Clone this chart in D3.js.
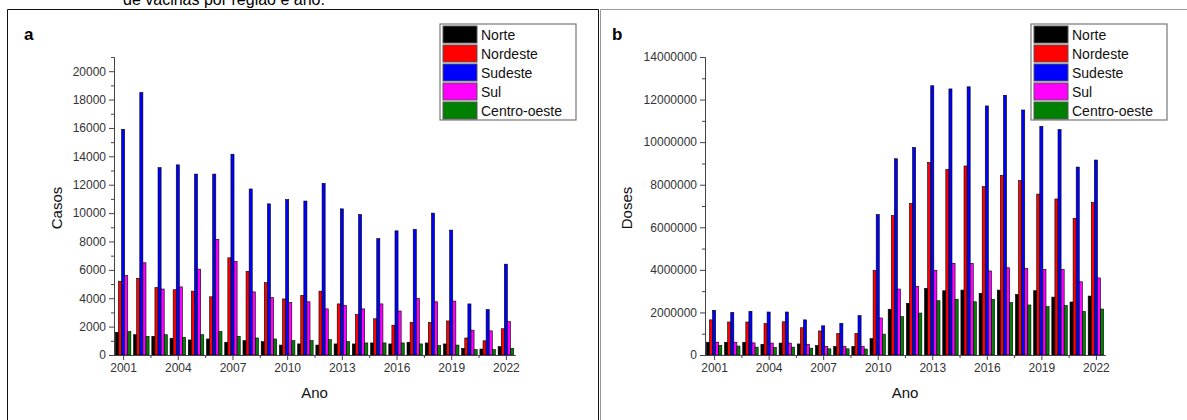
<!DOCTYPE html>
<html>
<head>
<meta charset="utf-8">
<script src="https://cdn.jsdelivr.net/npm/d3@7"></script>
<style>
  body { margin: 0; background: #fff; }
  svg { display: block; font-family: Arial, "Liberation Sans", sans-serif; }
  .axis path, .axis line { stroke: #444; }
  .axis text { fill: #333; font-size: 12px; font-family: Arial, "Liberation Sans", sans-serif; }
</style>
</head>
<body>
<div id="chart"></div>
<script>
const years = d3.range(2001, 2023);
const regions = ["Norte", "Nordeste", "Sudeste", "Sul", "Centro-oeste"];
const colors = ["#000000", "#ff0000", "#0000ff", "#ff00ff", "#008000"];
const xTicks = [2001, 2004, 2007, 2010, 2013, 2016, 2019, 2022];

// panel a: casos
const casosNorte   = [1600, 1430, 1320, 1180, 1060, 1130, 900, 1010, 940, 700, 780, 700, 780, 780, 850, 780, 900, 850, 780, 470, 420, 590];
const casosNordeste= [5200, 5400, 4750, 4600, 4500, 4100, 6850, 5900, 5100, 3950, 4200, 4500, 3600, 2850, 2550, 2100, 2300, 2300, 2400, 1200, 1000, 1850];
const casosSudeste = [15900, 18500, 13200, 13400, 12750, 12750, 14150, 11700, 10650, 10950, 10850, 12100, 10300, 9900, 8200, 8750, 8850, 10000, 8800, 3600, 3200, 6400];
const casosSul     = [5600, 6500, 4650, 4800, 6050, 8150, 6600, 4450, 4050, 3700, 3750, 3250, 3500, 3250, 3600, 3100, 4000, 3750, 3800, 1750, 1700, 2350];
const casosCentro  = [1650, 1320, 1430, 1250, 1430, 1650, 1320, 1200, 1130, 1010, 1010, 1080, 940, 850, 850, 850, 780, 660, 700, 380, 380, 470];

// panel b: doses
const dosesNorte   = [600000, 600000, 600000, 500000, 560000, 520000, 450000, 400000, 400000, 770000, 2150000, 2430000, 3130000, 3020000, 3050000, 2900000, 3050000, 2850000, 3020000, 2720000, 2490000, 2770000];
const dosesNordeste= [1650000, 1550000, 1550000, 1480000, 1560000, 1280000, 1130000, 1010000, 1010000, 3970000, 6550000, 7120000, 9050000, 8720000, 8880000, 7910000, 8440000, 8190000, 7560000, 7330000, 6420000, 7170000];
const dosesSudeste = [2100000, 2000000, 2050000, 2020000, 2020000, 1650000, 1370000, 1490000, 1850000, 6600000, 9220000, 9750000, 12650000, 12500000, 12600000, 11700000, 12200000, 11510000, 10740000, 10590000, 8830000, 9160000];
const dosesSul     = [600000, 600000, 570000, 560000, 560000, 500000, 400000, 400000, 400000, 1740000, 3100000, 3220000, 3980000, 4310000, 4310000, 3950000, 4100000, 4070000, 4020000, 4020000, 3440000, 3620000];
const dosesCentro  = [450000, 420000, 370000, 360000, 370000, 320000, 290000, 290000, 280000, 980000, 1800000, 1970000, 2550000, 2620000, 2500000, 2620000, 2460000, 2350000, 2270000, 2320000, 2040000, 2160000];

const W = 1187, H = 420;
const svg = d3.select("#chart").append("svg")
  .attr("width", W).attr("height", H);

// cut-off caption and panel frames
svg.append("text")
  .attr("x", 123).attr("y", 5)
  .attr("font-size", 16).attr("fill", "#000")
  .text("de vacinas por região e ano.");
svg.append("path")
  .attr("d", `M7.5 ${H} V9.5 H598.5 V${H}`)
  .attr("fill", "none").attr("stroke", "#111");
svg.append("path")
  .attr("d", `M600.5 ${H} V9.5 H${W}`)
  .attr("fill", "none").attr("stroke", "#999");

const panels = [
  {letter: "a", lx: 24, left: 114, right: 515, yMax: 21000, major: 2000, ylabel: "Casos", ylx: 57,
   legendX: 440, series: [casosNorte, casosNordeste, casosSudeste, casosSul, casosCentro]},
  {letter: "b", lx: 612, left: 705, right: 1105, yMax: 14000000, major: 2000000, ylabel: "Doses", ylx: 627,
   legendX: 1031, series: [dosesNorte, dosesNordeste, dosesSudeste, dosesSul, dosesCentro]}
];

const dim = {top: 57, bottom: 355};

panels.forEach(drawPanel);

function drawPanel(p) {
  const g = svg.append("g");
  const x = d3.scaleLinear([2000.5, 2022.5], [p.left, p.right]);
  const y = d3.scaleLinear([0, p.yMax], [dim.bottom, dim.top]);
  const step = x(2002) - x(2001);
  const sub = d3.scaleBand(d3.range(regions.length), [-step * 0.425, step * 0.425]);

  const rows = [];
  p.series.forEach((vals, s) => vals.forEach((v, i) => rows.push({s, year: years[i], v})));

  g.append("g").selectAll("rect").data(rows).join("rect")
    .attr("x", d => x(d.year) + sub(d.s))
    .attr("y", d => y(d.v))
    .attr("width", sub.bandwidth())
    .attr("height", d => y(0) - y(d.v))
    .attr("fill", d => colors[d.s])
    .attr("stroke", "#000")
    .attr("stroke-width", 0.6);

  // y axis, major + minor
  const majors = d3.range(0, p.yMax + 1, p.major).filter(v => v <= p.yMax && (p.yMax - v) >= p.major / 2 || v === p.yMax);
  const minors = d3.range(p.major / 2, p.yMax + 1, p.major);
  g.append("g").attr("class", "axis")
    .attr("transform", `translate(${p.left},0)`)
    .call(d3.axisLeft(y).tickValues(minors).tickSize(3).tickSizeOuter(0).tickFormat(""));
  g.append("g").attr("class", "axis")
    .attr("transform", `translate(${p.left},0)`)
    .call(d3.axisLeft(y).tickValues(majors).tickSize(5).tickSizeOuter(0).tickPadding(3).tickFormat(d3.format("d")));

  // x axis
  const xMinor = xTicks.slice(0, -1).map(t => t + 1.5);
  g.append("g").attr("class", "axis")
    .attr("transform", `translate(0,${dim.bottom})`)
    .call(d3.axisBottom(x).tickValues(xMinor).tickSize(3).tickSizeOuter(0).tickFormat(""));
  g.append("g").attr("class", "axis")
    .attr("transform", `translate(0,${dim.bottom})`)
    .call(d3.axisBottom(x).tickValues(xTicks).tickSize(5).tickSizeOuter(0).tickPadding(3).tickFormat(d3.format("d")));

  g.append("text")
    .attr("x", (p.left + p.right) / 2).attr("y", 398)
    .attr("text-anchor", "middle").attr("font-size", 15).attr("fill", "#111")
    .text("Ano");
  g.append("text")
    .attr("transform", `translate(${p.ylx + 5},${(dim.top + dim.bottom) / 2 + 2}) rotate(-90)`)
    .attr("text-anchor", "middle").attr("font-size", 15).attr("fill", "#111")
    .text(p.ylabel);
  g.append("text")
    .attr("x", p.lx).attr("y", 40)
    .attr("font-size", 17).attr("font-weight", "bold")
    .text(p.letter);

  // legend
  const lg = g.append("g").attr("transform", `translate(${p.legendX},24)`);
  lg.append("rect")
    .attr("width", 136).attr("height", 96)
    .attr("fill", "#fff").attr("stroke", "#777").attr("stroke-width", 1.2);
  const item = lg.selectAll("g.item").data(regions).join("g")
    .attr("class", "item")
    .attr("transform", (d, i) => `translate(3,${2 + i * 19})`);
  item.append("rect")
    .attr("width", 34).attr("height", 17)
    .attr("fill", (d, i) => colors[i])
    .attr("stroke", "#555").attr("stroke-width", 1);
  item.append("text")
    .attr("x", 38).attr("y", 14)
    .attr("font-size", 14).attr("fill", "#111")
    .text(d => d);
}
</script>
</body>
</html>
